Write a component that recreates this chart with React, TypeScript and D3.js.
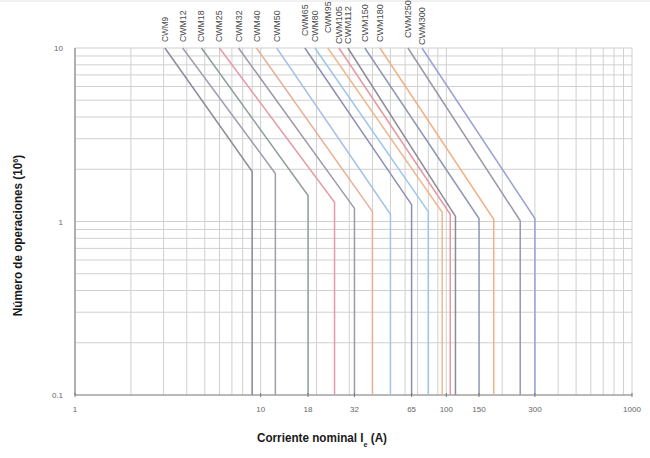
import * as d3 from "d3";

const contactors = [
  "CWM9", "CWM12", "CWM18", "CWM25", "CWM32", "CWM40", "CWM50", "CWM65",
  "CWM80", "CWM95", "CWM105", "CWM112", "CWM150", "CWM180", "CWM250", "CWM300",
];
// rated current Ie (A) where each curve turns vertical
const ratedCurrent = [9, 12, 18, 25, 32, 40, 50, 65, 80, 95, 105, 112, 150, 180, 250, 300];
// current at which the curve leaves the top (10 x 10^6 operations)
const currentAtTop = [3.05, 3.8, 4.8, 6.0, 7.6, 9.5, 12.2, 17.3, 19.6, 23.0, 26.4, 29.5, 36.4, 43.9, 62.1, 73.9];
// operations (10^6) at the knee
const kneeOps = [1.94, 1.89, 1.41, 1.29, 1.19, 1.14, 1.1, 1.25, 1.14, 1.13, 1.1, 1.07, 1.04, 1.03, 1.01, 1.04];

const xTickLabels = [1, 10, 18, 32, 65, 100, 150, 300, 1000];
const yTickLabels = [0.1, 1, 10];

const palette = [
  "#8f8b98", "#a09cae", "#8f9c9c", "#e59aa8", "#9a9aa8", "#e9ae96", "#a6c2e4", "#8a8fb0",
  "#9cc6ea", "#f0b88e", "#e8979f", "#8a8c98", "#8f98b2", "#efb286", "#9a98a8", "#9ba0d4",
];
// how far each rotated label sits above the plot (px)
const labelGap = [6, 6, 6, 6, 6, 6, 6, 12, 6, 15, 4, 4, 6, 6, 10, 3];

const W = 650;
const H = 458;
const left = 75;
const right = 632;
const top = 48;
const bottom = 395;
const font = "'Liberation Sans', Arial, sans-serif";

export default function App() {
  const x = d3.scaleLog().domain([1, 1000]).range([left, right]);
  const y = d3.scaleLog().domain([0.1, 10]).range([bottom, top]);
  const line = d3
    .line<[number, number]>()
    .x((d) => x(d[0]))
    .y((d) => y(d[1]));

  return (
    <svg
      width={W}
      height={H}
      viewBox={`0 0 ${W} ${H}`}
      style={{ position: "absolute", left: 0, top: 0, background: "#fff" }}
    >
      <line x1={0} x2={W} y1={1} y2={1} stroke="#e2e2e2" />
      {/* grid */}
      {y.ticks().map((t, i) => (
        <line key={"h" + i} x1={left} x2={right} y1={y(t)} y2={y(t)} stroke="#d0d0d0" strokeWidth={1} />
      ))}
      {x.ticks().map((t, i) => (
        <line key={"v" + i} x1={x(t)} x2={x(t)} y1={top} y2={bottom} stroke="#d0d0d0" strokeWidth={1} />
      ))}
      {/* axes */}
      <line x1={left} x2={left} y1={top} y2={bottom} stroke="#8a8a8a" strokeWidth={1.2} />
      <line x1={left} x2={right} y1={bottom} y2={bottom} stroke="#8a8a8a" strokeWidth={1.2} />

      {/* curves */}
      {contactors.map((name, i) => (
        <path
          key={name}
          d={line([
            [currentAtTop[i], 10],
            [ratedCurrent[i], kneeOps[i]],
            [ratedCurrent[i], 0.1],
          ]) ?? ""}
          fill="none"
          stroke={palette[i]}
          strokeWidth={1.5}
        />
      ))}

      {/* curve labels */}
      {contactors.map((name, i) => {
        const px = x(currentAtTop[i]);
        const py = top - labelGap[i];
        return (
          <text
            key={"l" + name}
            transform={`translate(${px + 3},${py}) rotate(-90)`}
            fontSize={9}
            fontFamily={font}
            fill="#4a4a4a"
            textLength={name.length * 6.3}
            lengthAdjust="spacingAndGlyphs"
          >
            {name}
          </text>
        );
      })}

      {/* tick labels */}
      {xTickLabels.map((t) => (
        <g key={"xt" + t}>
          <line x1={x(t)} x2={x(t)} y1={bottom - 2} y2={bottom + 2} stroke="#777" />
          <text x={x(t)} y={bottom + 17} textAnchor="middle" fontSize={8} fontFamily={font} fill="#666">
            {t}
          </text>
        </g>
      ))}
      {yTickLabels.map((t) => (
        <text key={"yt" + t} x={left - 12} y={y(t) + 3} textAnchor="end" fontSize={8} fontFamily={font} fill="#666">
          {t}
        </text>
      ))}

      {/* axis titles */}
      <text
        transform={`translate(22,${(top + bottom) / 2 + 14}) rotate(-90) scale(0.9,1)`}
        textAnchor="middle"
        fontSize={13}
        fontWeight={600}
        fontFamily={font}
        fill="#1a1a1a"
      >
        Número de operaciones (10
        <tspan baselineShift="super" fontSize={8}>6</tspan>)
      </text>
      <text
        transform="translate(322,442) scale(0.9,1)"
        textAnchor="middle"
        fontSize={13}
        fontWeight={600}
        fontFamily={font}
        fill="#1a1a1a"
      >
        Corriente nominal I
        <tspan baselineShift="sub" fontSize={8} fontWeight="bold">e</tspan> (A)
      </text>
    </svg>
  );
}
